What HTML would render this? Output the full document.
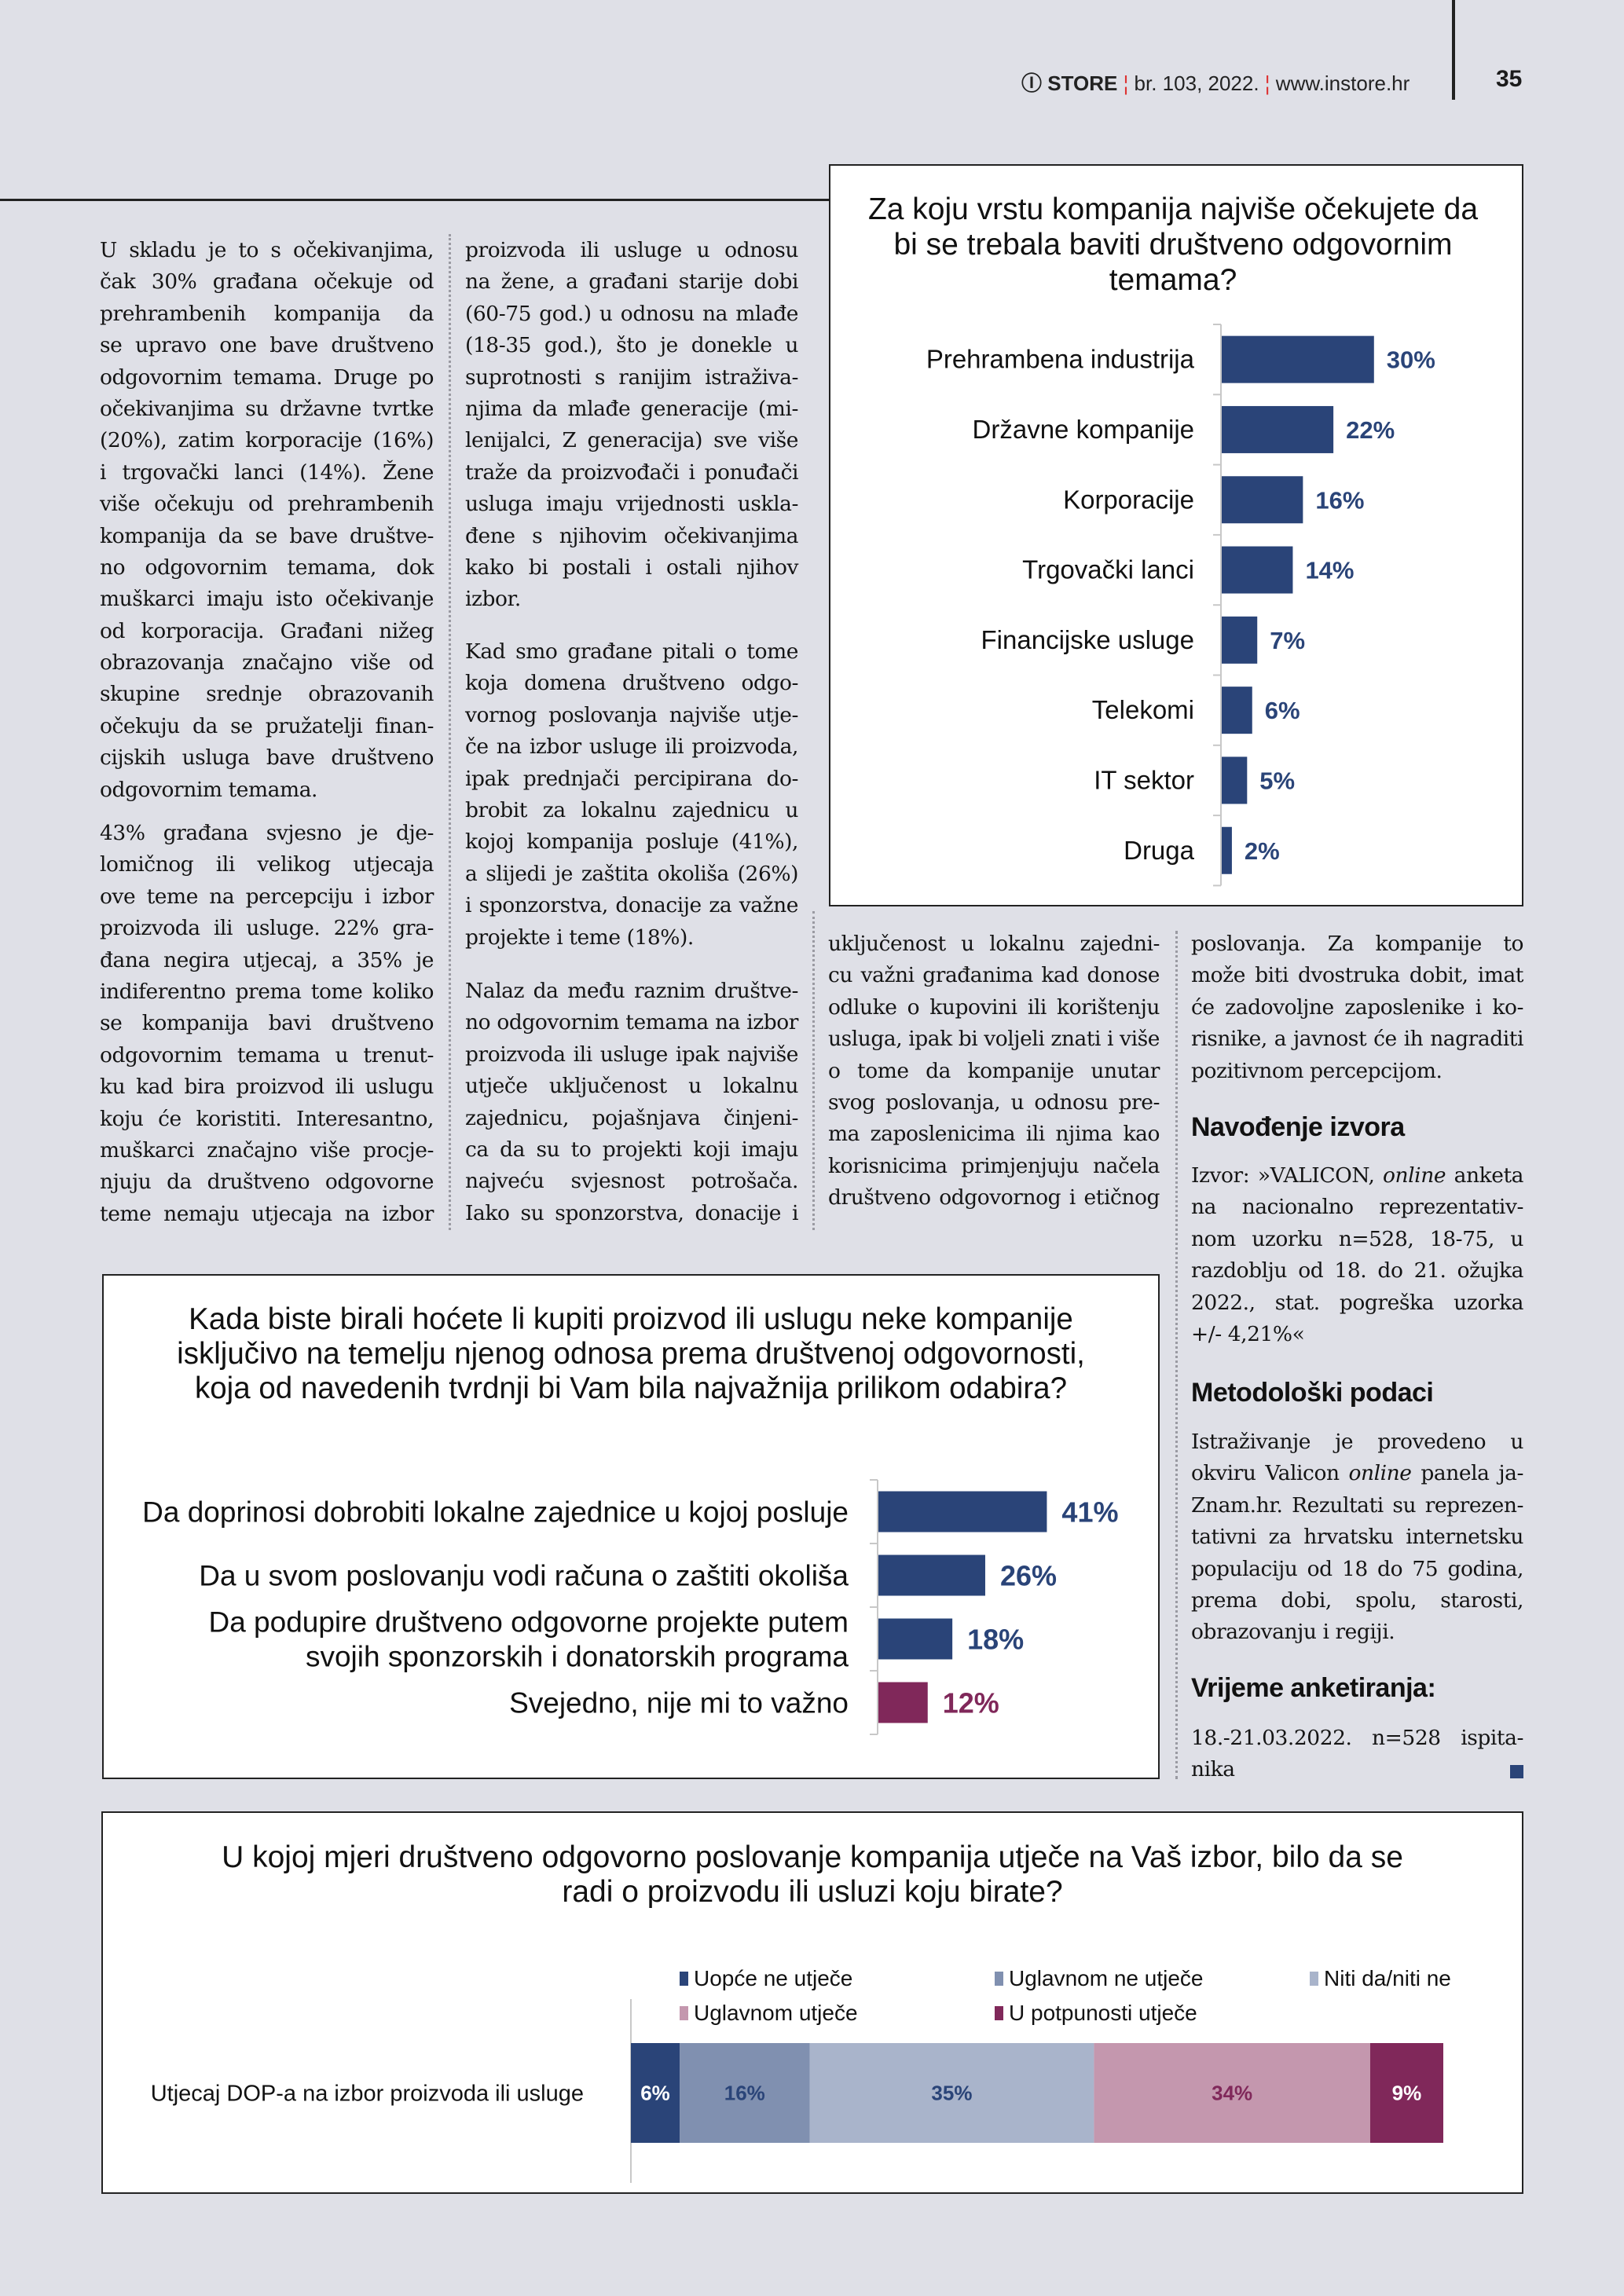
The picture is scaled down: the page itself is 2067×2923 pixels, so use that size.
<!DOCTYPE html>
<html><head><meta charset="utf-8">
<style>
*{margin:0;padding:0;box-sizing:border-box}
body{width:2067px;height:2923px;background:#dfe0e7;position:relative;overflow:hidden;font-family:"Liberation Serif",serif;color:#1b1b1b}
.abs{position:absolute}
.col{position:absolute;font-family:"DejaVu Serif","Liberation Serif",serif;font-size:26.5px;line-height:40.4px;letter-spacing:-0.45px;color:#141414}
.col div{text-align:justify;text-align-last:justify;white-space:nowrap;height:40.4px}
.col div.e{text-align-last:left}
.hd{position:absolute;font-family:"Liberation Sans Narrow","Liberation Sans",sans-serif;font-weight:bold;font-size:34px;letter-spacing:-0.5px;color:#111}
.box{position:absolute;background:#fff;border:2px solid #222}
.sep{position:absolute;width:0;border-left:3px dotted #9a9aa2}
</style></head><body>
<div class="abs" style="left:1300px;top:86px;font-family:'Liberation Sans',sans-serif;font-size:26px;color:#222;white-space:nowrap">
<span style="font-weight:bold;font-family:'Liberation Sans Narrow','Liberation Sans',sans-serif">Ⓘ STORE</span> <span style="color:#d33">¦</span> br. 103, 2022. <span style="color:#d33">¦</span> www.instore.hr</div>
<div class="abs" style="left:1848px;top:0;width:4px;height:127px;background:#222"></div>
<div class="abs" style="left:1904px;top:84px;font-family:'Liberation Sans Narrow','Liberation Sans',sans-serif;font-weight:bold;font-size:30px">35</div>
<div class="abs" style="left:0;top:253px;width:1056px;height:3px;background:#222"></div>

<div class="sep" style="left:571px;top:298px;height:1268px"></div>
<div class="sep" style="left:1034px;top:1160px;height:406px"></div>
<div class="sep" style="left:1496px;top:1185px;height:1080px"></div>

<div class="col" style="left:127px;top:299px;width:425px">
<div>U skladu je to s očekivanjima,</div><div>čak 30% građana očekuje od</div><div>prehrambenih kompanija da</div><div>se upravo one bave društveno</div><div>odgovornim temama. Druge po</div><div>očekivanjima su državne tvrtke</div><div>(20%), zatim korporacije (16%)</div><div>i trgovački lanci (14%). Žene</div><div>više očekuju od prehrambenih</div><div>kompanija da se bave društve-</div><div>no odgovornim temama, dok</div><div>muškarci imaju isto očekivanje</div><div>od korporacija. Građani nižeg</div><div>obrazovanja značajno više od</div><div>skupine srednje obrazovanih</div><div>očekuju da se pružatelji finan-</div><div>cijskih usluga bave društveno</div><div class="e">odgovornim temama.</div>
</div>
<div class="col" style="left:127px;top:1041px;width:425px">
<div>43% građana svjesno je dje-</div><div>lomičnog ili velikog utjecaja</div><div>ove teme na percepciju i izbor</div><div>proizvoda ili usluge. 22% gra-</div><div>đana negira utjecaj, a 35% je</div><div>indiferentno prema tome koliko</div><div>se kompanija bavi društveno</div><div>odgovornim temama u trenut-</div><div>ku kad bira proizvod ili uslugu</div><div>koju će koristiti. Interesantno,</div><div>muškarci značajno više procje-</div><div>njuju da društveno odgovorne</div><div>teme nemaju utjecaja na izbor</div>
</div>
<div class="col" style="left:592px;top:299px;width:424px">
<div>proizvoda ili usluge u odnosu</div><div>na žene, a građani starije dobi</div><div>(60-75 god.) u odnosu na mlađe</div><div>(18-35 god.), što je donekle u</div><div>suprotnosti s ranijim istraživa-</div><div>njima da mlađe generacije (mi-</div><div>lenijalci, Z generacija) sve više</div><div>traže da proizvođači i ponuđači</div><div>usluga imaju vrijednosti uskla-</div><div>đene s njihovim očekivanjima</div><div>kako bi postali i ostali njihov</div><div class="e">izbor.</div>
</div>
<div class="col" style="left:592px;top:810px;width:424px">
<div>Kad smo građane pitali o tome</div><div>koja domena društveno odgo-</div><div>vornog poslovanja najviše utje-</div><div>če na izbor usluge ili proizvoda,</div><div>ipak prednjači percipirana do-</div><div>brobit za lokalnu zajednicu u</div><div>kojoj kompanija posluje (41%),</div><div>a slijedi je zaštita okoliša (26%)</div><div>i sponzorstva, donacije za važne</div><div class="e">projekte i teme (18%).</div>
</div>
<div class="col" style="left:592px;top:1242px;width:424px">
<div>Nalaz da među raznim društve-</div><div>no odgovornim temama na izbor</div><div>proizvoda ili usluge ipak najviše</div><div>utječe uključenost u lokalnu</div><div>zajednicu, pojašnjava činjeni-</div><div>ca da su to projekti koji imaju</div><div>najveću svjesnost potrošača.</div><div>Iako su sponzorstva, donacije i</div>
</div>
<div class="col" style="left:1054px;top:1182px;width:422px">
<div>uključenost u lokalnu zajedni-</div><div>cu važni građanima kad donose</div><div>odluke o kupovini ili korištenju</div><div>usluga, ipak bi voljeli znati i više</div><div>o tome da kompanije unutar</div><div>svog poslovanja, u odnosu pre-</div><div>ma zaposlenicima ili njima kao</div><div>korisnicima primjenjuju načela</div><div>društveno odgovornog i etičnog</div>
</div>
<div class="col" style="left:1516px;top:1182px;width:423px">
<div>poslovanja. Za kompanije to</div><div>može biti dvostruka dobit, imat</div><div>će zadovoljne zaposlenike i ko-</div><div>risnike, a javnost će ih nagraditi</div><div class="e">pozitivnom percepcijom.</div>
</div>
<div class="hd" style="left:1516px;top:1416px">Navođenje izvora</div>
<div class="col" style="left:1516px;top:1477px;width:423px">
<div>Izvor: »VALICON, <i>online</i> anketa</div><div>na nacionalno reprezentativ-</div><div>nom uzorku n=528, 18-75, u</div><div>razdoblju od 18. do 21. ožujka</div><div>2022., stat. pogreška uzorka</div><div class="e">+/- 4,21%«</div>
</div>
<div class="hd" style="left:1516px;top:1754px">Metodološki podaci</div>
<div class="col" style="left:1516px;top:1816px;width:423px">
<div>Istraživanje je provedeno u</div><div>okviru Valicon <i>online</i> panela ja-</div><div>Znam.hr. Rezultati su reprezen-</div><div>tativni za hrvatsku internetsku</div><div>populaciju od 18 do 75 godina,</div><div>prema dobi, spolu, starosti,</div><div class="e">obrazovanju i regiji.</div>
</div>
<div class="hd" style="left:1516px;top:2130px">Vrijeme anketiranja:</div>
<div class="col" style="left:1516px;top:2193px;width:423px">
<div>18.-21.03.2022. n=528 ispita-</div><div class="e">nika</div>
</div>
<div class="abs" style="left:1922px;top:2247px;width:17px;height:17px;background:#2a4478"></div>

<div class="box" style="left:1055px;top:209px;width:884px;height:945px">
<svg id="c1" width="880" height="941" style="position:absolute;left:0;top:0"></svg>
</div>
<div class="box" style="left:130px;top:1622px;width:1346px;height:643px">
<svg id="c2" width="1342" height="639" style="position:absolute;left:0;top:0"></svg>
</div>
<div class="box" style="left:129px;top:2306px;width:1810px;height:487px">
<svg id="c3" width="1806" height="483" style="position:absolute;left:0;top:0"></svg>
</div>

<script>
const c1Categories=["Prehrambena industrija","Državne kompanije","Korporacije","Trgovački lanci","Financijske usluge","Telekomi","IT sektor","Druga"];
const c1Values=[30,22,16,14,7,6,5,2];
const c1Title=["Za koju vrstu kompanija najviše očekujete da","bi se trebala baviti društveno odgovornim","temama?"];

const c2Categories=[["Da doprinosi dobrobiti lokalne zajednice u kojoj posluje"],["Da u svom poslovanju vodi računa o zaštiti okoliša"],["Da podupire društveno odgovorne projekte putem","svojih sponzorskih i donatorskih programa"],["Svejedno, nije mi to važno"]];
const c2Values=[41,26,18,12];
const c2Title=["Kada biste birali hoćete li kupiti proizvod ili uslugu neke kompanije","isključivo na temelju njenog odnosa prema društvenoj odgovornosti,","koja od navedenih tvrdnji bi Vam bila najvažnija prilikom odabira?"];

const c3Series=["Uopće ne utječe","Uglavnom ne utječe","Niti da/niti ne","Uglavnom utječe","U potpunosti utječe"];
const c3Values=[6,16,35,34,9];
const c3Category="Utjecaj DOP-a na izbor proizvoda ili usluge";
const c3Title=["U kojoj mjeri društveno odgovorno poslovanje kompanija utječe na Vaš izbor, bilo da se","radi o proizvodu ili usluzi koju birate?"];

const NS="http://www.w3.org/2000/svg";
function mk(p,tag,a,txt){const e=document.createElementNS(NS,tag);for(const k in a)e.setAttribute(k,a[k]);if(txt!=null)e.textContent=txt;p.appendChild(e);return e;}
const F='"Liberation Sans",sans-serif';

(function(){
const s=document.getElementById('c1');
c1Title.forEach((t,i)=>{const e=mk(s,'text',{x:436,y:68+i*45,'text-anchor':'middle','font-family':F,'font-size':39,fill:'#111'},t);

});
const x0=497,pxPer=6.46,top0=202,step=89.3,bh=60;
const x=v=>x0+v*pxPer, yc=i=>top0+step*(i+0.5);
mk(s,'line',{x1:x0,x2:x0,y1:top0,y2:top0+step*c1Values.length,stroke:'#c8c8c8','stroke-width':2});
for(let i=0;i<=c1Values.length;i++){mk(s,'line',{x1:x0-10,x2:x0,y1:top0+step*i,y2:top0+step*i,stroke:'#c8c8c8','stroke-width':2});}
c1Values.forEach((v,i)=>{
const r=mk(s,'rect',{x:x0+1,y:yc(i)-bh/2,width:x(v)-x0,height:bh,fill:'#2a4478'});


const l=mk(s,'text',{x:463,y:yc(i)+11,'text-anchor':'end','font-family':F,'font-size':33,fill:'#111'},c1Categories[i]);


const vl=mk(s,'text',{x:x(v)+17,y:yc(i)+11,'font-family':F,'font-size':31,'font-weight':'bold',fill:'#2a4478'},v+'%');


});
})();

(function(){
const s=document.getElementById('c2');
c2Title.forEach((t,i)=>{const e=mk(s,'text',{x:671,y:68+i*44,'text-anchor':'middle','font-family':F,'font-size':38.5,fill:'#111'},t);

});
const x0=985,pxPer=5.23,top0=260,step=81,bh=52;
const x=v=>x0+v*pxPer, yc=i=>top0+step*(i+0.5);
mk(s,'line',{x1:x0,x2:x0,y1:top0,y2:top0+step*c2Values.length,stroke:'#c8c8c8','stroke-width':2});
for(let i=0;i<=c2Values.length;i++){mk(s,'line',{x1:x0-10,x2:x0,y1:top0+step*i,y2:top0+step*i,stroke:'#c8c8c8','stroke-width':2});}
c2Values.forEach((v,i)=>{
const col=i===3?'#80285a':'#2a4478';
const r=mk(s,'rect',{x:x0+1,y:yc(i)-bh/2,width:x(v)-x0,height:bh,fill:col});


const lines=c2Categories[i];
lines.forEach((t,j)=>{const l=mk(s,'text',{x:948,y:yc(i)+13+(j-(lines.length-1)/2)*44,'text-anchor':'end','font-family':F,'font-size':37,fill:'#111'},t);

});
const vl=mk(s,'text',{x:x(v)+20,y:yc(i)+13,'font-family':F,'font-size':36,'font-weight':'bold',fill:col},v+'%');


});
})();

(function(){
const s=document.getElementById('c3');
const cols=['#2a4478','#8090b0','#a9b4cb','#c497ae','#80285a'];
const lblCols=['#ffffff','#2a4478','#2a4478','#80285a','#ffffff'];
c3Title.forEach((t,i)=>{const e=mk(s,'text',{x:903,y:69+i*44,'text-anchor':'middle','font-family':F,'font-size':39,fill:'#111'},t);

});
const lx=[747,1148,1549],ly=[212,256];
c3Series.forEach((n,i)=>{const cx=lx[i%3],cy=ly[Math.floor(i/3)];
const sq=mk(s,'rect',{x:cx-13,y:cy-10,width:11,height:18,fill:cols[i]});


const t=mk(s,'text',{x:cx+5,y:cy+8,'font-family':F,'font-size':28,fill:'#111'},n);

});
const x0=672,pxPer=10.34,y0=293,bh=127;
mk(s,'line',{x1:x0,x2:x0,y1:237,y2:471,stroke:'#c8c8c8','stroke-width':2});
mk(s,'text',{x:612,y:y0+bh/2+10,'text-anchor':'end','font-family':F,'font-size':29,fill:'#111'},c3Category);
let acc=0;
c3Values.forEach((v,i)=>{
const xs=x0+acc*pxPer,w=v*pxPer;
const r=mk(s,'rect',{x:xs,y:y0,width:w,height:bh,fill:cols[i]});


const t=mk(s,'text',{x:xs+w/2,y:y0+bh/2+9,'text-anchor':'middle','font-family':F,'font-size':26,'font-weight':'bold',fill:lblCols[i]},v+'%');


acc+=v;});
})();
</script>
</body></html>
